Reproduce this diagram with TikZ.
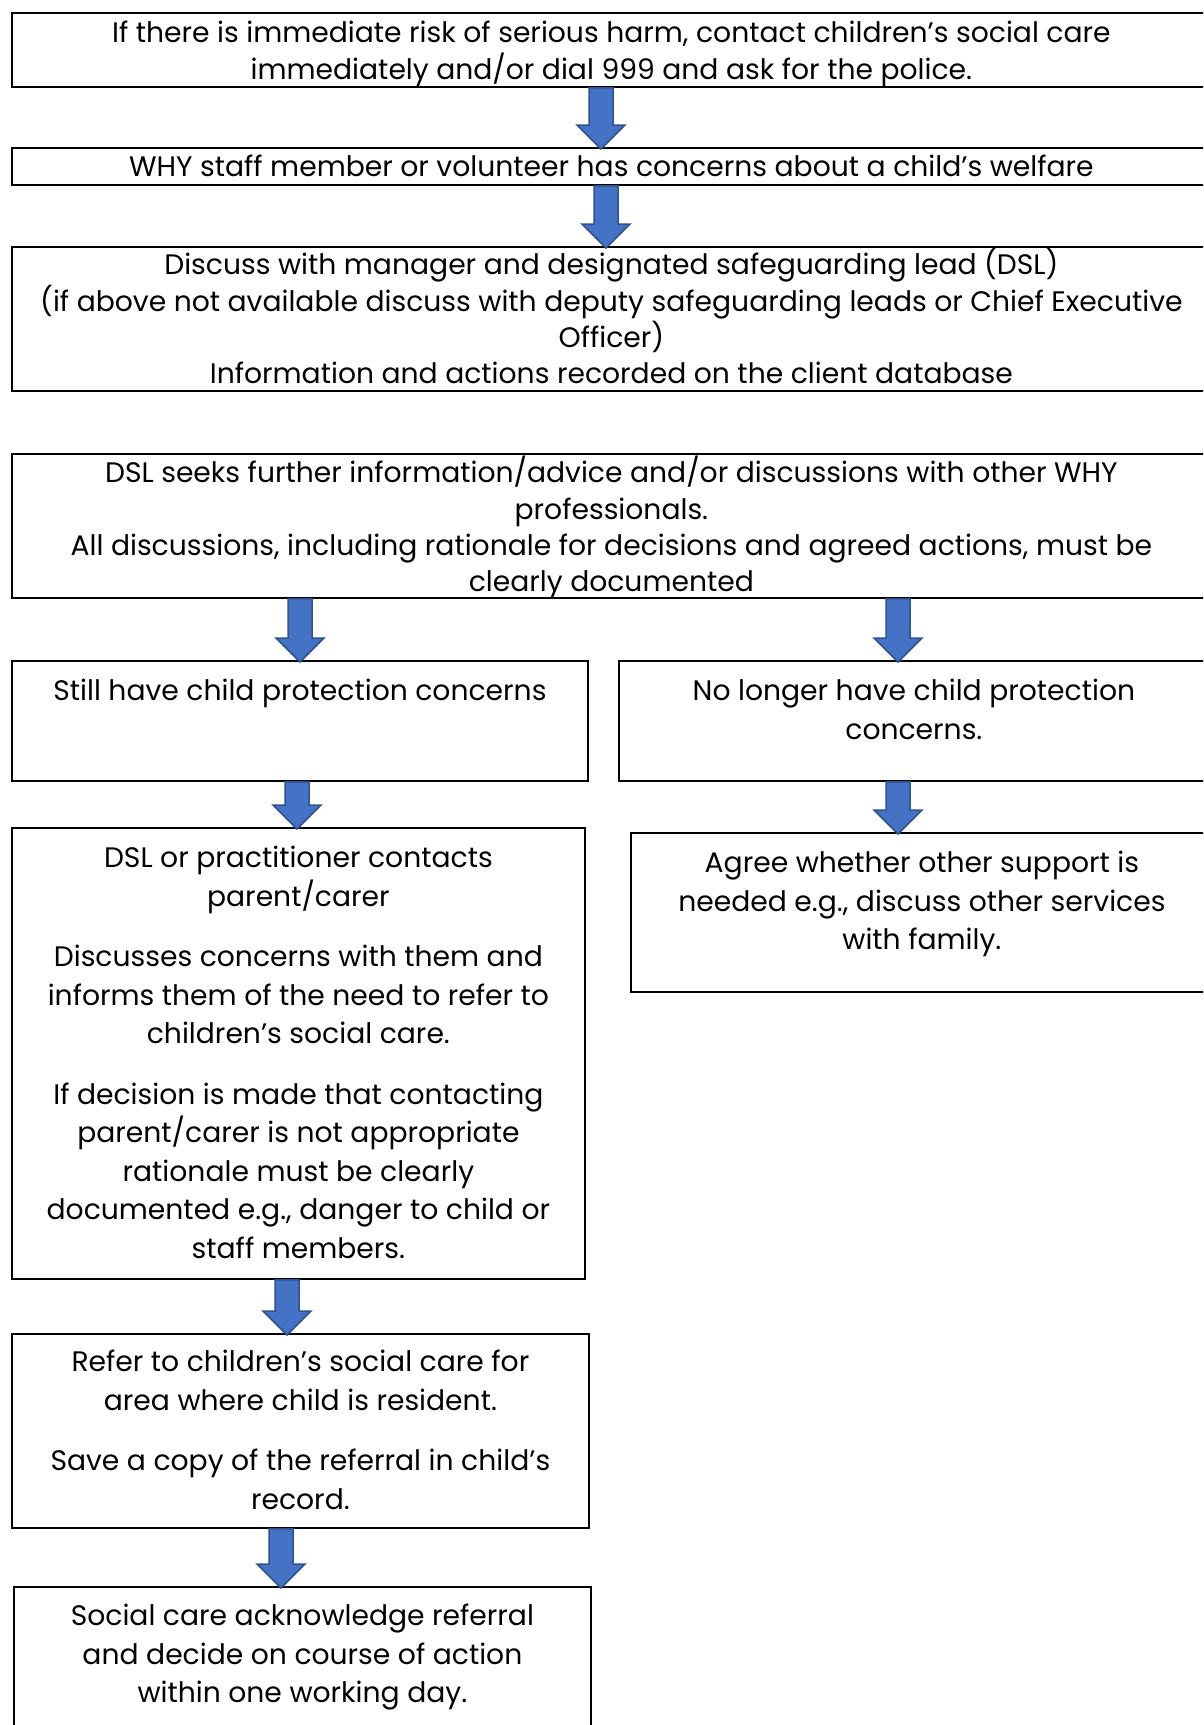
\documentclass[tikz,border=0pt]{standalone}
\usepackage{fontspec}
\setmainfont{Poppins}
\usetikzlibrary{calc}

\definecolor{arrowfill}{HTML}{4472C4}
\definecolor{arrowline}{HTML}{2F528F}

% box text: width, height, first baseline, line spacing, text
\newcommand{\flowtext}[5]{\parbox[c][#2pt][t]{#1pt}{\centering\fontsize{28.2}{#4}\selectfont\rule{0pt}{#3pt}#5}}
\newcommand{\paragap}{\par\vspace{22pt}}
% thick down arrow from (#1) to the top of (#2)
\newcommand{\flowarrow}[2]{\draw[blockarrow] let \p1=(#1), \p2=(#2) in
  (\x1-12pt,\y1) -- (\x1+12pt,\y1) -- (\x1+12pt,\y2+22pt) -- (\x1+24pt,\y2+22pt)
  -- (\x1,\y2-2pt) -- (\x1-24pt,\y2+22pt) -- (\x1-12pt,\y2+22pt) -- cycle;}

\tikzset{
  flowbox/.style={draw=black, line width=1.8pt, inner sep=0pt, anchor=north west},
  blockarrow/.style={draw=arrowline, fill=arrowfill, line width=1.5pt, line join=miter}
}

\begin{document}
\begin{tikzpicture}[x=1pt, y=-1pt]
	\useasboundingbox (0,0) rectangle (1203,1725);
	\clip (0,0) rectangle (1203,1725);

	\node[flowbox] (risk) at (11,12) {\flowtext{1199}{74}{30}{36.3pt}{If there is immediate risk of serious harm, contact children’s social care\\ immediately and/or dial 999 and ask for the police.}};
	\node[flowbox] (concern) at (11,147) {\flowtext{1199}{37}{29}{36.3pt}{WHY staff member or volunteer has concerns about a child’s welfare}};
	\node[flowbox] (discuss) at (11,246) {\flowtext{1199}{144}{28}{36.3pt}{Discuss with manager and designated safeguarding lead (DSL)\\ (if above not available discuss with deputy safeguarding leads or Chief Executive\\ Officer)\\ Information and actions recorded on the client database}};
	\node[flowbox] (seek) at (11,453) {\flowtext{1199}{144}{29}{36.3pt}{DSL seeks further information/advice and/or discussions with other WHY\\ professionals.\\ All discussions, including rationale for decisions and agreed actions, must be\\ clearly documented}};

	% two outcomes
	\node[flowbox] (still) at (11,660) {\flowtext{576}{120}{40}{38.5pt}{Still have child protection concerns}};
	\node[flowbox] (nolonger) at (618,660) {\flowtext{590}{120}{40}{38.5pt}{No longer have child protection\\ concerns.}};
	\node[flowbox] (contact) at (11,827) {\flowtext{573}{451}{40}{38.5pt}{DSL or practitioner contacts\\ parent/carer\paragap
		Discusses concerns with them and\\ informs them of the need to refer to\\ children’s social care.\paragap
		If decision is made that contacting\\ parent/carer is not appropriate\\ rationale must be clearly\\ documented e.g., danger to child or\\ staff members.}};
	\node[flowbox] (agree) at (630,832) {\flowtext{582}{159}{40}{38.5pt}{Agree whether other support is\\ needed e.g., discuss other services\\ with family.}};
	\node[flowbox] (refer) at (11,1333) {\flowtext{577}{194}{38}{38.5pt}{Refer to children’s social care for\\ area where child is resident.\paragap
		Save a copy of the referral in child’s\\ record.}};
	\node[flowbox] (acknowledge) at (13,1586) {\flowtext{577}{170}{39}{38.5pt}{Social care acknowledge referral\\ and decide on course of action\\ within one working day.}};

	\flowarrow{$(risk.south west)+(590,0)$}{concern.north}
	\flowarrow{$(concern.south west)+(595,0)$}{discuss.north}
	\flowarrow{$(seek.south west)+(289,0)$}{still.north}
	\flowarrow{$(seek.south west)+(887,0)$}{nolonger.north}
	\flowarrow{$(still.south west)+(286,0)$}{contact.north}
	\flowarrow{$(nolonger.south west)+(280,0)$}{agree.north}
	\flowarrow{$(contact.south west)+(276,0)$}{refer.north}
	\flowarrow{$(refer.south west)+(270,0)$}{acknowledge.north}
\end{tikzpicture}
\end{document}
